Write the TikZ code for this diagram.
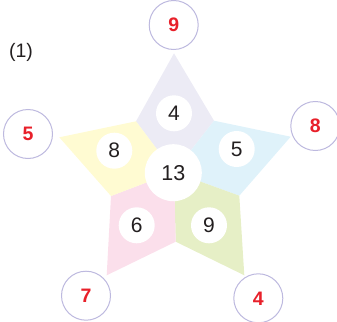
\documentclass[tikz,border=0pt]{standalone}
\usepackage{fontspec}
\setmainfont{Liberation Sans}
\definecolor{lavsec}{HTML}{ECEBF5}
\definecolor{bluesec}{HTML}{DFF2FA}
\definecolor{greensec}{HTML}{E6EFC6}
\definecolor{pinksec}{HTML}{FBDFEB}
\definecolor{yellowsec}{HTML}{FFFBD2}
\definecolor{ring}{HTML}{BDB9DF}
\definecolor{rednum}{HTML}{E8202A}
\definecolor{darktext}{HTML}{231F20}
\begin{document}
\begin{tikzpicture}[x=1pt,y=-1pt,
  inner/.style={circle,fill=white,minimum size=36pt,inner sep=0pt,text=darktext,font=\fontsize{21}{21}\selectfont},
  centre/.style={circle,fill=white,minimum size=57pt,inner sep=0pt,text=darktext,font=\fontsize{21.5}{21.5}\selectfont},
  outer/.style={circle,draw=ring,line width=1pt,fill=white,minimum size=49pt,inner sep=0pt,text=rednum,font=\fontsize{19.5}{19.5}\selectfont\bfseries}]
\useasboundingbox (0,0) rectangle (337,321);
% star geometry
\coordinate (C) at (174,172);
\coordinate (T) at (174,53.3);
\coordinate (R) at (290.7,136.7);
\coordinate (LR) at (244.3,275.3);
\coordinate (LL) at (106.7,275.3);
\coordinate (L) at (59.3,137.3);
\coordinate (IUL) at (136,121.3);
\coordinate (IUR) at (214,120.7);
\coordinate (IR) at (239.3,195.7);
\coordinate (IB) at (175.7,241.7);
\coordinate (IL) at (111,196);
% sectors
\fill[lavsec] (C) -- (IUL) -- (T) -- (IUR) -- cycle;
\fill[bluesec] (C) -- (IUR) -- (R) -- (IR) -- cycle;
\fill[greensec] (C) -- (IR) -- (LR) -- (IB) -- cycle;
\fill[pinksec] (C) -- (IB) -- (LL) -- (IL) -- cycle;
\fill[yellowsec] (C) -- (IL) -- (L) -- (IUL) -- cycle;
% inner circles
\node[inner] (n4) at (174,113.3) {4};
\node[inner] (n8) at (114.3,150.7) {8};
\node[inner] (n5) at (236.7,149) {5};
\node[inner] (n6) at (136.7,225.3) {6};
\node[inner] (n9) at (209,225.3) {9};
\node[centre] (n13) at (173.3,172.7) {13};
% outer circles
\node[outer] (o9) at (173.7,25) {9};
\node[outer] (o5) at (28,134) {5};
\node[outer] (o8) at (315.3,126) {8};
\node[outer] (o7) at (86,295.7) {7};
\node[outer] (o4) at (258.3,298.3) {4};
% label
\node[text=darktext,font=\fontsize{19.5}{19.5}\selectfont] (lab) at (21,52.7) {(1)};
\end{tikzpicture}
\end{document}
